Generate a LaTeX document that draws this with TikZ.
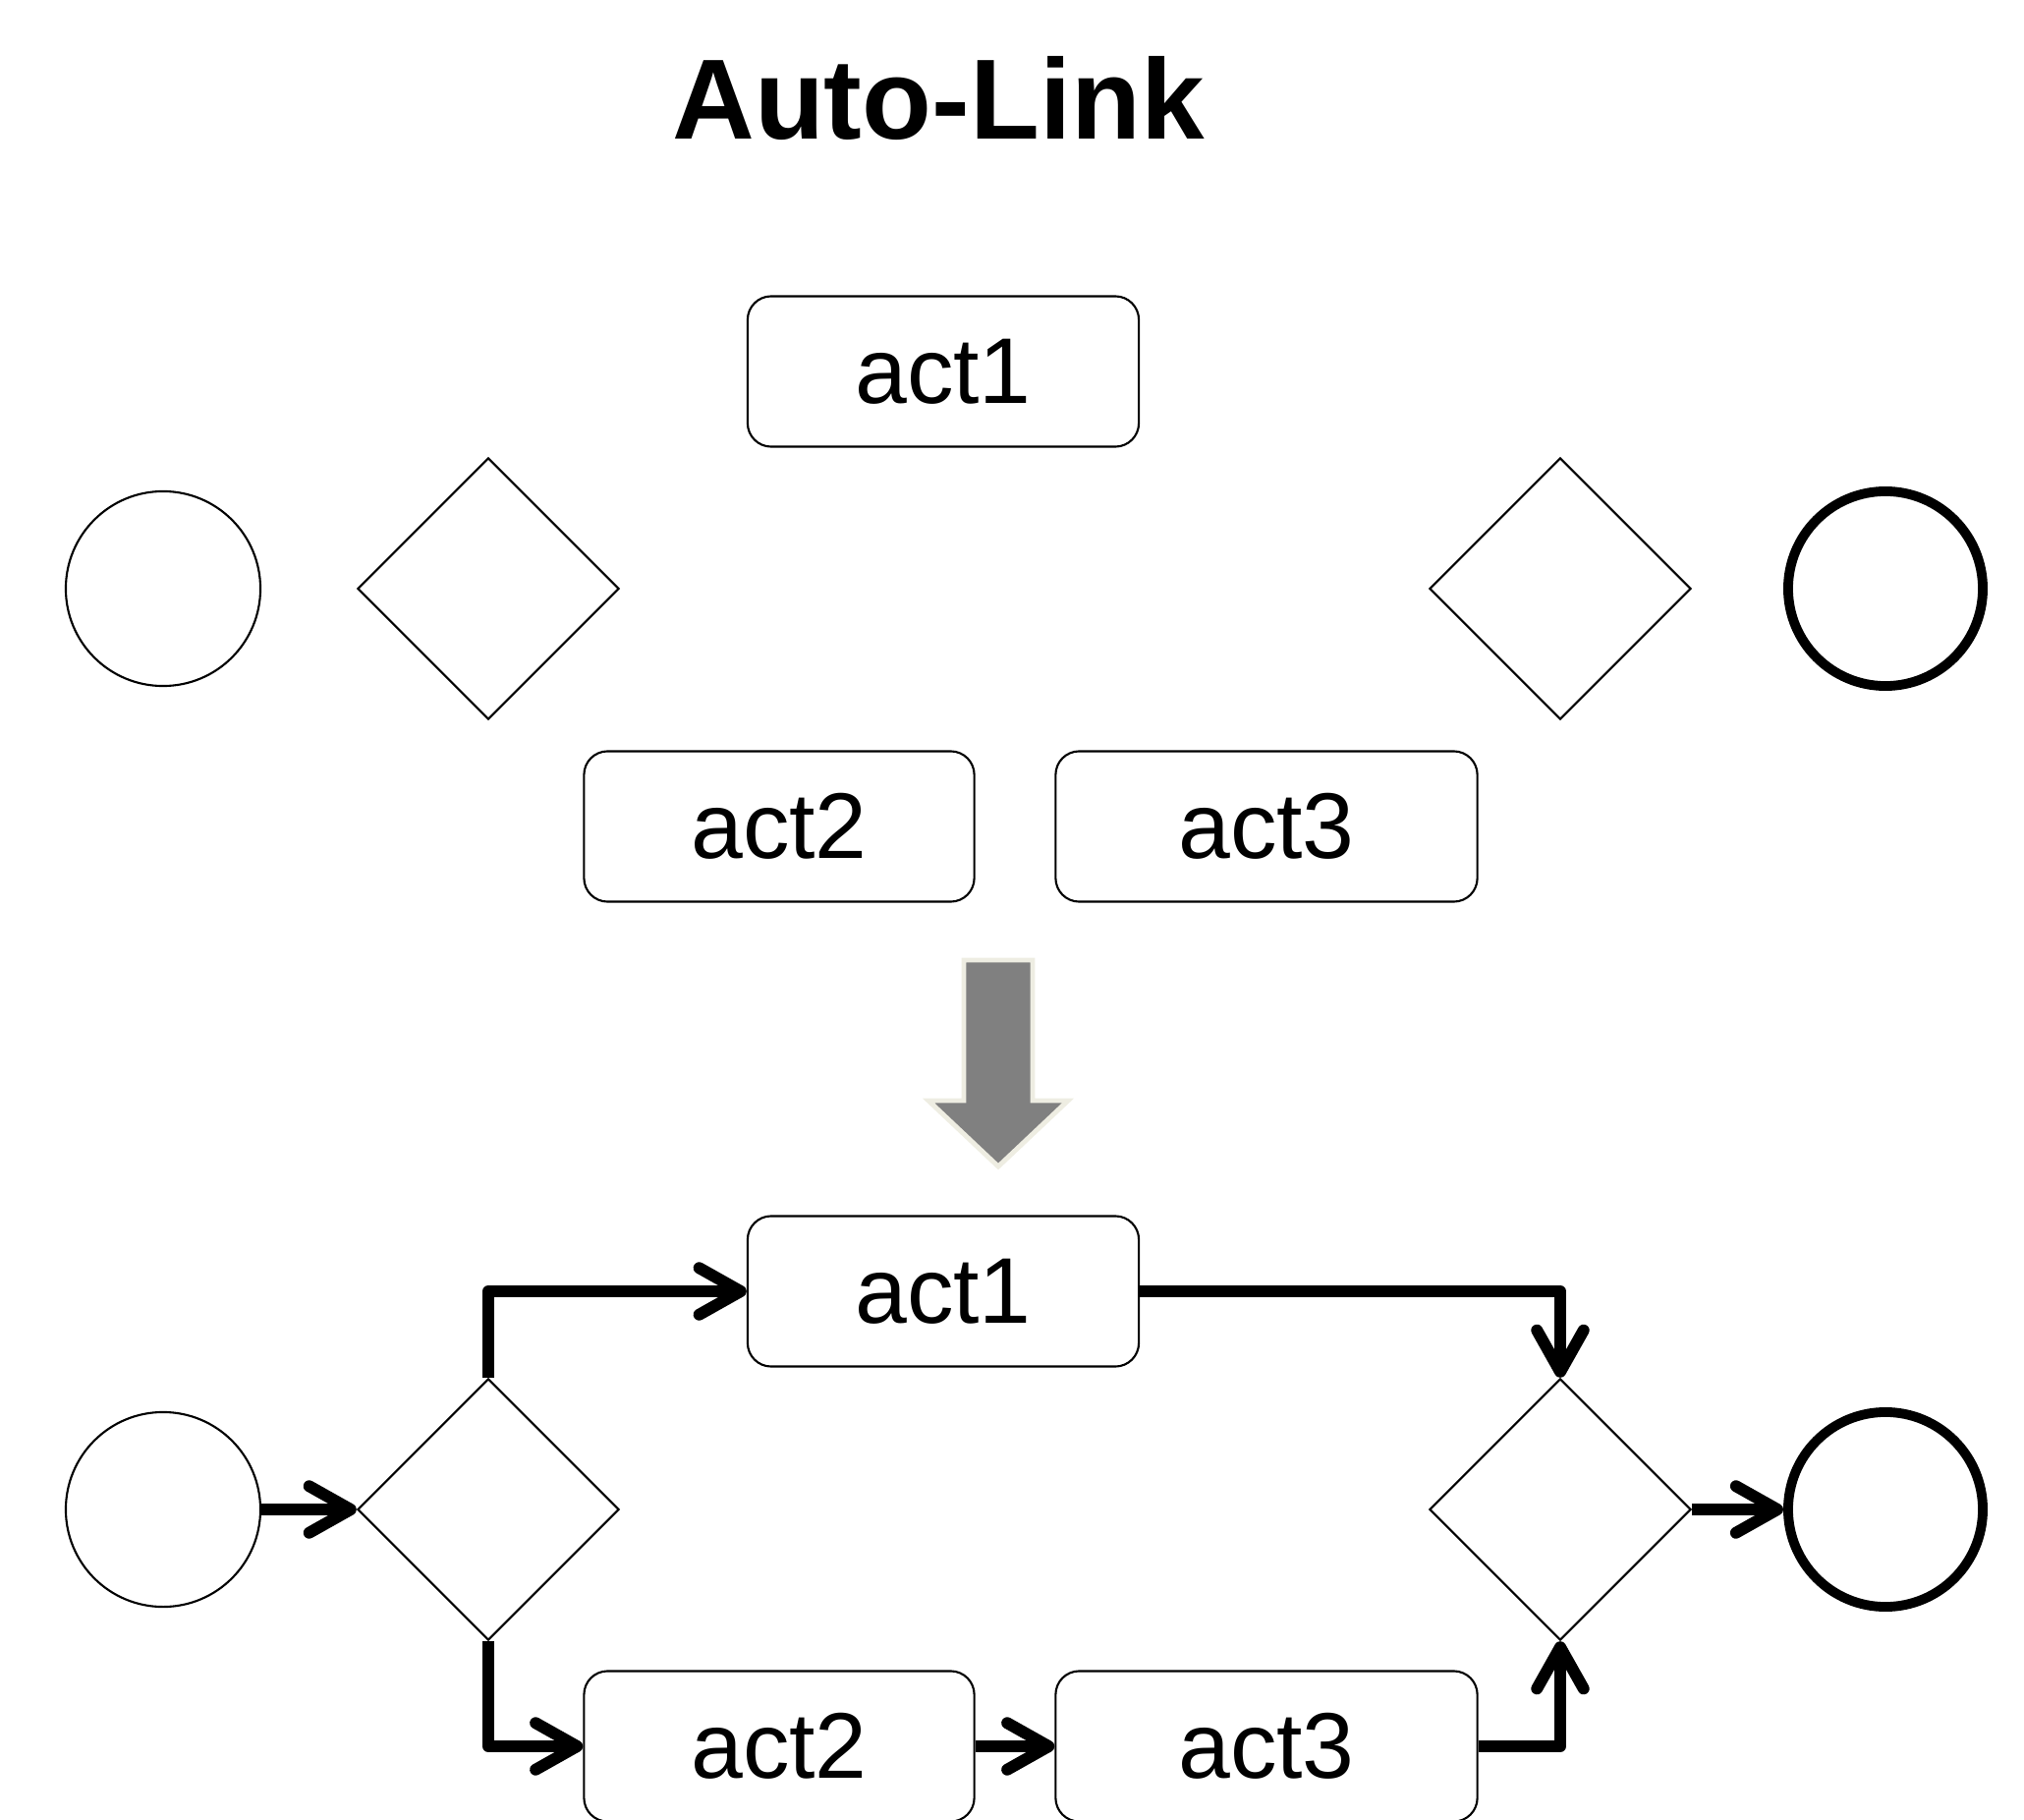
\documentclass[tikz,border=0pt]{standalone}
\usepackage{fontspec}
\setmainfont{Liberation Sans}
\usetikzlibrary{shapes.geometric,arrows.meta}
\definecolor{arrowgray}{HTML}{808080}
\definecolor{arrowrim}{HTML}{EEEDE2}
\begin{document}
\begin{tikzpicture}[x=0.01cm,y=-0.01cm,
  actbox/.style={draw, line width=0.6pt, rounded corners=0.24cm, minimum height=1.53cm, inner sep=0pt, font=\fontsize{27}{30}\selectfont},
  startnode/.style={draw, circle, line width=0.6pt, minimum size=1.98cm, inner sep=0pt},
  endnode/.style={draw, circle, line width=2.8pt, minimum size=1.98cm, inner sep=0pt},
  gate/.style={draw, diamond, line width=0.6pt, minimum width=2.66cm, minimum height=2.66cm, inner sep=0pt, aspect=1},
  conn/.style={line width=3.4pt, line join=round, -{Straight Barb[length=12pt, width=13.5pt, round]}},
  titlefont/.style={font=\fontsize{33}{36}\selectfont\bfseries}
]
\useasboundingbox (0,0) rectangle (2060,1852);

% title
\node[titlefont, anchor=base] (title) at (955,142) {Auto-Link};

% top (unlinked) diagram
\node[actbox, minimum width=3.98cm] (tact1) at (960,378) {act1};
\node[startnode] (tstart) at (166,599) {};
\node[gate] (td1) at (497,599) {};
\node[gate] (td2) at (1588,599) {};
\node[endnode] (tend) at (1919,599) {};
\node[actbox, minimum width=3.97cm] (tact2) at (793,841) {act2};
\node[actbox, minimum width=4.29cm] (tact3) at (1289,841) {act3};

% big grey arrow
\draw[fill=arrowgray, draw=arrowrim, line width=1.4pt, line join=miter]
  (981,977) -- (1051,977) -- (1051,1120) -- (1087,1120) -- (1016,1187)
  -- (945,1120) -- (981,1120) -- cycle;

% bottom (linked) diagram
\node[actbox, minimum width=3.98cm] (bact1) at (960,1314) {act1};
\node[startnode] (bstart) at (166,1536) {};
\node[gate] (bd1) at (497,1536) {};
\node[gate] (bd2) at (1588,1536) {};
\node[endnode] (bend) at (1919,1536) {};
\node[actbox, minimum width=3.97cm] (bact2) at (793,1777) {act2};
\node[actbox, minimum width=4.29cm] (bact3) at (1289,1777) {act3};

\draw[conn] (bstart.east) -- (bd1.west);
\draw[conn] (bd1.north) |- (bact1.west);
\draw[conn] (bact1.east) -| (bd2.north);
\draw[conn] (bd1.south) |- (bact2.west);
\draw[conn] (bact2.east) -- (bact3.west);
\draw[conn] (bact3.east) -| (bd2.south);
\draw[conn] (bd2.east) -- (bend.west);
\end{tikzpicture}
\end{document}
